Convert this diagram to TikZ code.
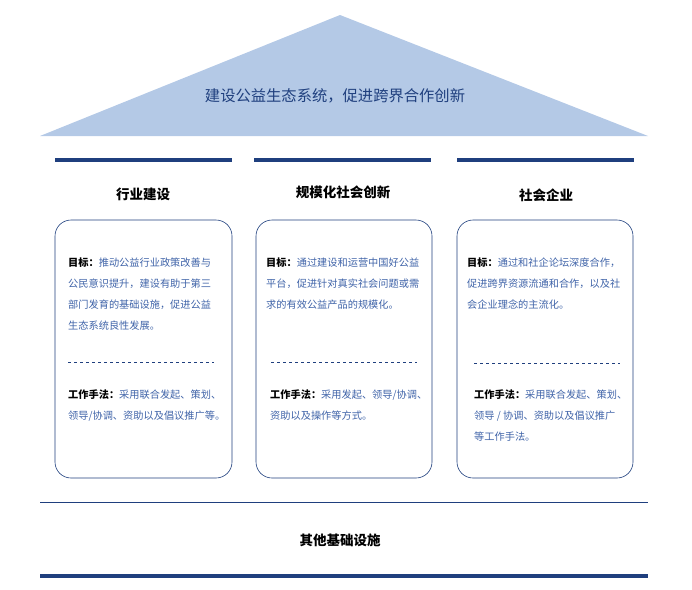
\documentclass[tikz,border=0pt]{standalone}
\usepackage{fontspec}
\setmainfont{Noto Sans CJK SC}
\usetikzlibrary{positioning}
\definecolor{roofblue}{HTML}{B4C9E6}
\definecolor{navy}{HTML}{1F3F7E}
\definecolor{txtblue}{HTML}{3F63A8}
\tikzset{
  bar/.style={navy, line width=4.5pt},
  pillar/.style={draw=navy, semithick, rounded corners=16pt},
  head/.style={font=\fontsize{13.5}{15}\selectfont\bfseries},
  body/.style={anchor=north west, align=left, text=txtblue,
    font=\fontsize{10.2}{21}\selectfont, inner sep=0pt},
  sep/.style={navy, dashed, thin}
}
\newcommand{\lbl}[1]{{\color{black}\bfseries #1}}
\begin{document}
\begin{tikzpicture}[x=1pt,y=-1pt]
  \useasboundingbox (0,0) rectangle (692,589);
  % roof
  \fill[roofblue] (340,15) -- (648,136) -- (40,136) -- cycle;
  \node[text=navy, font=\fontsize{15.3}{17}\selectfont] (title) at (335,96) {建设公益生态系统，促进跨界合作创新};

  % bars and headers
  \draw[bar] (55,160) -- (232,160);
  \draw[bar] (254,160) -- (431,160);
  \draw[bar] (457,160) -- (634,160);
  \node[head] (h1) at (143,194) {行业建设};
  \node[head] (h2) at (343,192) {规模化社会创新};
  \node[head] (h3) at (546,195) {社会企业};

  % pillars
  \draw[pillar] (55,220) rectangle (232,478);
  \draw[pillar] (256,220) rectangle (432,478);
  \draw[pillar] (457,220) rectangle (633,478);

  \node[body] (g1) at (68,258) {\lbl{目标：}推动公益行业政策改善与\\公民意识提升，建设有助于第三\\部门发育的基础设施，促进公益\\生态系统良性发展。};
  \node[body] (g2) at (266,258) {\lbl{目标：}通过建设和运营中国好公益\\平台，促进针对真实社会问题或需\\求的有效公益产品的规模化。};
  \node[body] (g3) at (467,258) {\lbl{目标：}通过和社企论坛深度合作，\\促进跨界资源流通和合作，以及社\\会企业理念的主流化。};

  \draw[sep] (68,362) -- (214,362);
  \draw[sep] (271,362) -- (417,362);
  \draw[sep] (474,363) -- (620,363);

  \node[body] (m1) at (68,390) {\lbl{工作手法：}采用联合发起、策划、\\领导/协调、资助以及倡议推广等。};
  \node[body] (m2) at (270,390) {\lbl{工作手法：}采用发起、领导/协调、\\资助以及操作等方式。};
  \node[body] (m3) at (474,390) {\lbl{工作手法：}采用联合发起、策划、\\领导 / 协调、资助以及倡议推广\\等工作手法。};

  % foundation
  \draw[navy, thin] (40,502) -- (648,502);
  \node[head] (base) at (340,540) {其他基础设施};
  \draw[bar] (40,576) -- (648,576);
\end{tikzpicture}
\end{document}
